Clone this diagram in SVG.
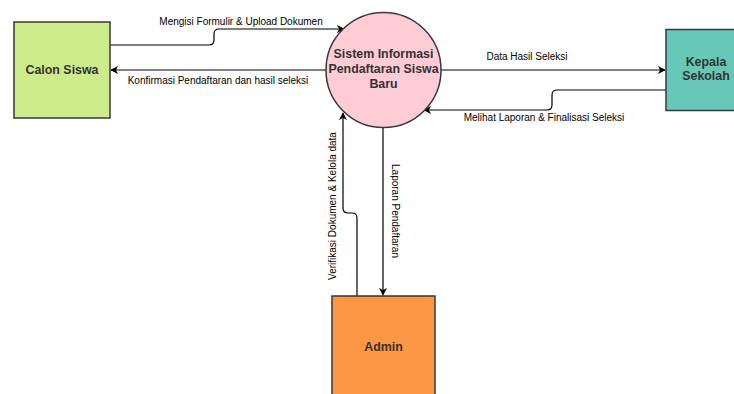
<svg xmlns="http://www.w3.org/2000/svg" width="734" height="394" viewBox="0 0 734 394">
  <defs>
    <marker id="arrow" viewBox="0 0 10 10" refX="9" refY="5" markerWidth="8" markerHeight="8" markerUnits="userSpaceOnUse" orient="auto">
      <path d="M0,0 L10,5 L0,10 L3,5 Z" fill="#000"/>
    </marker>
    <style>
      .box { stroke: #36393d; stroke-width: 1.5; }
      .name { font-family: "Liberation Sans", Arial, sans-serif; font-size: 12.4px; font-weight: bold; fill: #333; text-anchor: middle; }
      .flow { fill: none; stroke: #000; stroke-width: 1.2; marker-end: url(#arrow); }
      .label { font-family: "Liberation Sans", Arial, sans-serif; font-size: 10px; fill: #000; text-anchor: middle; }
    </style>
  </defs>
  <rect width="734" height="394" fill="#fff"/>

  <g id="connectors">
    <!-- Calon Siswa -> Sistem -->
    <path class="flow" d="M110,45 H209 Q214,45 214,40 V34 Q214,29 219,29 H344"/>
    <!-- Sistem -> Calon Siswa -->
    <path class="flow" d="M326,70 H111"/>
    <!-- Sistem -> Kepala Sekolah -->
    <path class="flow" d="M441,70 H665"/>
    <!-- Kepala Sekolah -> Sistem -->
    <path class="flow" d="M666,90 H557 Q552,90 552,95 V105 Q552,110 547,110 H424"/>
    <!-- Admin -> Sistem -->
    <path class="flow" d="M357,296 V218 Q357,213 352,213 H348 Q343,213 343,208 V113"/>
    <!-- Sistem -> Admin -->
    <path class="flow" d="M383,128 V295"/>

    <text class="label" x="241" y="25">Mengisi Formulir &amp; Upload Dokumen</text>
    <text class="label" x="218" y="84">Konfirmasi Pendaftaran dan hasil seleksi</text>
    <text class="label" x="527" y="60">Data Hasil Seleksi</text>
    <text class="label" x="544" y="121">Melihat Laporan &amp; Finalisasi Seleksi</text>
    <text class="label" transform="translate(336,206) rotate(-90)">Verifikasi Dokumen  &amp; Kelola data</text>
    <text class="label" transform="translate(392,211) rotate(90)">Laporan Pendaftaran</text>
  </g>

  <g id="calon-siswa">
    <rect class="box" x="14" y="22" width="96" height="96" fill="#cdeb8b"/>
    <text class="name" x="62" y="74">Calon Siswa</text>
  </g>

  <g id="sistem">
    <circle class="box" cx="383.5" cy="70" r="57.5" fill="#ffccd5"/>
    <text class="name" x="383.5" y="58">Sistem Informasi</text>
    <text class="name" x="383.5" y="73">Pendaftaran Siswa</text>
    <text class="name" x="383.5" y="88">Baru</text>
  </g>

  <g id="kepala-sekolah">
    <rect class="box" x="666" y="29.5" width="80" height="81" fill="#67c8b8"/>
    <text class="name" x="706" y="66">Kepala</text>
    <text class="name" x="706" y="80">Sekolah</text>
  </g>

  <g id="admin">
    <rect class="box" x="332" y="296" width="103" height="104" fill="#fd9745"/>
    <text class="name" x="383.5" y="351">Admin</text>
  </g>
</svg>
